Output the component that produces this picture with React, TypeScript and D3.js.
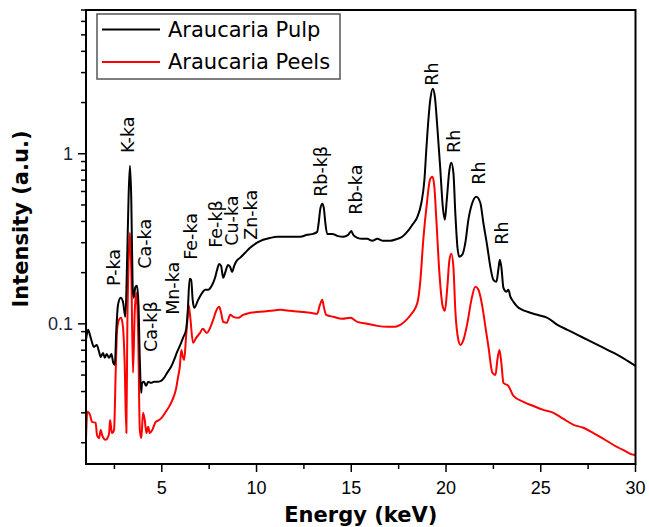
import React, { useEffect, useRef } from "react";
import * as d3 from "d3";

// Araucaria Pulp spectrum (energy in keV, intensity in a.u.)
const pulpEnergy = [
  1.0, 1.11, 1.25, 1.42, 1.57, 1.69, 1.78, 1.9, 1.99, 2.09,
  2.22, 2.34, 2.44, 2.52, 2.6, 2.69, 2.83, 2.95, 3.08, 3.17,
  3.25, 3.32, 3.39, 3.46, 3.51, 3.61, 3.69, 3.77, 3.84, 3.91,
  3.96, 4.06, 4.17, 4.28, 4.43, 4.59, 4.75, 4.96, 5.12, 5.28,
  5.49, 5.65, 5.81, 6.02, 6.12, 6.28, 6.36, 6.47, 6.55, 6.63,
  6.71, 6.92, 7.13, 7.29, 7.44, 7.66, 7.81, 7.92, 8.03, 8.13,
  8.24, 8.34, 8.5, 8.61, 8.71, 8.82, 8.92, 9.14, 9.4, 9.66,
  10.03, 10.35, 10.72, 11.09, 11.41, 11.78, 12.31, 12.67, 12.99, 13.2,
  13.28, 13.36, 13.47, 13.55, 13.63, 13.73, 14.0, 14.26, 14.58, 14.84,
  15.0, 15.1, 15.32, 15.58, 15.84, 16.11, 16.37, 16.69, 17.06, 17.43,
  17.69, 17.96, 18.22, 18.49, 18.7, 18.86, 18.96, 19.07, 19.17, 19.3,
  19.41, 19.54, 19.7, 19.83, 19.94, 20.04, 20.18, 20.28, 20.39, 20.49,
  20.6, 20.7, 20.86, 21.02, 21.18, 21.39, 21.6, 21.81, 21.97, 22.18,
  22.34, 22.5, 22.66, 22.76, 22.84, 22.92, 23.03, 23.19, 23.29, 23.4,
  23.56, 23.77, 24.03, 24.3, 24.82, 25.35, 25.88, 26.41, 26.94, 27.47,
  28.0, 28.52, 29.05, 29.58, 30.0,
];
const pulpIntensity = [
  0.0805, 0.0922, 0.0827, 0.0732, 0.0752, 0.0684, 0.0639, 0.0675, 0.0631, 0.0666,
  0.0631, 0.0666, 0.059, 0.0574, 0.0922, 0.1294, 0.1422, 0.1347, 0.11, 0.238,
  0.574, 0.85, 0.536, 0.1696, 0.1422, 0.165, 0.1673, 0.1294, 0.0614, 0.0393,
  0.045, 0.0456, 0.0432, 0.0456, 0.045, 0.0456, 0.0456, 0.0462, 0.0481, 0.0515,
  0.0559, 0.0614, 0.0684, 0.0773, 0.0827, 0.0922, 0.113, 0.184, 0.1815, 0.1384,
  0.1242, 0.1384, 0.1522, 0.1585, 0.1585, 0.1696, 0.1865, 0.208, 0.225, 0.219,
  0.1865, 0.1995, 0.222, 0.216, 0.202, 0.219, 0.232, 0.245, 0.262, 0.28,
  0.3, 0.312, 0.32, 0.325, 0.325, 0.325, 0.325, 0.334, 0.338, 0.348,
  0.393, 0.469, 0.508, 0.481, 0.393, 0.338, 0.338, 0.329, 0.325, 0.334,
  0.352, 0.334, 0.32, 0.316, 0.316, 0.308, 0.316, 0.308, 0.308, 0.316,
  0.325, 0.348, 0.382, 0.426, 0.515, 0.703, 1.056, 1.585, 2.078, 2.413,
  2.164, 1.442, 0.805, 0.488, 0.409, 0.536, 0.805, 0.885, 0.773, 0.45,
  0.284, 0.248, 0.255, 0.3, 0.409, 0.515, 0.558, 0.515, 0.393, 0.284,
  0.216, 0.1815, 0.1767, 0.208, 0.238, 0.216, 0.1628, 0.1543, 0.1585, 0.1441,
  0.1347, 0.1259, 0.1209, 0.1177, 0.113, 0.1085, 0.0987, 0.0922, 0.0861, 0.0805,
  0.0752, 0.0703, 0.0657, 0.0606, 0.0566,
];

// Araucaria Peels spectrum
const peelsEnergy = [
  1.0, 1.07, 1.21, 1.32, 1.51, 1.58, 1.69, 1.78, 1.85, 2.04,
  2.16, 2.22, 2.27, 2.37, 2.48, 2.57, 2.64, 2.74, 2.85, 2.95,
  3.04, 3.13, 3.18, 3.27, 3.32, 3.39, 3.48, 3.57, 3.66, 3.75,
  3.84, 3.92, 4.01, 4.1, 4.19, 4.28, 4.37, 4.5, 4.68, 4.86,
  5.03, 5.21, 5.38, 5.56, 5.74, 5.86, 5.95, 6.03, 6.11, 6.18,
  6.27, 6.35, 6.41, 6.49, 6.65, 6.81, 7.02, 7.16, 7.38, 7.55,
  7.71, 7.87, 8.03, 8.13, 8.24, 8.43, 8.61, 8.77, 9.03, 9.29,
  9.66, 10.19, 10.72, 11.25, 11.78, 12.31, 12.84, 13.2, 13.33, 13.47,
  13.55, 13.68, 14.05, 14.52, 14.95, 15.32, 15.84, 16.37, 16.9, 17.32,
  17.59, 17.96, 18.22, 18.49, 18.64, 18.8, 19.01, 19.15, 19.28, 19.38,
  19.49, 19.65, 19.83, 19.94, 20.07, 20.18, 20.28, 20.39, 20.49, 20.65,
  20.76, 20.92, 21.13, 21.34, 21.55, 21.71, 21.92, 22.08, 22.24, 22.45,
  22.61, 22.71, 22.82, 22.92, 23.03, 23.29, 23.56, 24.09, 24.61, 25.14,
  25.67, 26.2, 26.73, 27.25, 27.78, 28.31, 28.84, 29.37, 29.9, 30.0,
];
const peelsIntensity = [
  0.0208, 0.0304, 0.0292, 0.0265, 0.0262, 0.0222, 0.0213, 0.0238, 0.0222, 0.0208,
  0.0216, 0.0228, 0.0272, 0.0228, 0.0238, 0.0536, 0.0922, 0.1056, 0.1085, 0.096,
  0.059, 0.0228, 0.0922, 0.272, 0.343, 0.208, 0.0515, 0.1161, 0.1522, 0.0922,
  0.0238, 0.0213, 0.03, 0.0272, 0.0228, 0.0248, 0.0228, 0.0238, 0.0265, 0.0272,
  0.0284, 0.0304, 0.0325, 0.0357, 0.0409, 0.0488, 0.0559, 0.0703, 0.0639, 0.0614,
  0.0805, 0.1056, 0.1294, 0.113, 0.0773, 0.0827, 0.0885, 0.0935, 0.0885, 0.0947,
  0.1056, 0.1193, 0.1259, 0.1161, 0.1027, 0.1014, 0.113, 0.11, 0.1085, 0.113,
  0.1161, 0.1177, 0.1193, 0.1209, 0.1193, 0.1177, 0.1161, 0.1145, 0.1276, 0.1384,
  0.1259, 0.113, 0.11, 0.107, 0.1085, 0.1027, 0.1, 0.0973, 0.096, 0.096,
  0.0987, 0.107, 0.1161, 0.1329, 0.1767, 0.312, 0.536, 0.703, 0.732, 0.648,
  0.409, 0.1995, 0.1259, 0.1193, 0.165, 0.238, 0.258, 0.216, 0.1209, 0.0805,
  0.0752, 0.0805, 0.1014, 0.1384, 0.165, 0.1585, 0.1259, 0.096, 0.0732, 0.0515,
  0.0501, 0.0614, 0.0703, 0.059, 0.045, 0.0432, 0.0377, 0.0348, 0.0329, 0.0312,
  0.03, 0.0276, 0.0255, 0.0245, 0.0228, 0.0211, 0.0194, 0.0181, 0.017, 0.017,
];

// peak annotations: label start sits at (energy, intensity)
const peakNames = [
  "P-ka", "K-ka", "Ca-ka", "Ca-kβ", "Mn-ka", "Fe-ka", "Fe-kβ", "Cu-ka",
  "Zn-ka", "Rb-kβ", "Rb-ka", "Rh", "Rh", "Rh", "Rh",
];
const peakEnergy = [
  2.8, 3.54, 4.42, 4.75, 5.91, 6.85, 8.16, 9.03, 10.01, 13.7, 15.55, 19.59,
  20.76, 22.08, 23.29,
];
const peakIntensity = [
  0.167, 1.01, 0.211, 0.0684, 0.113, 0.238, 0.28, 0.288, 0.312, 0.558, 0.438,
  2.51, 1.01, 0.657, 0.292,
];

const seriesNames = ["Araucaria Pulp", "Araucaria Peels"];
const seriesColors = ["#000000", "#ff0000"];

const xTicks = [5, 10, 15, 20, 25, 30];
const xMinorTicks = [2.5, 7.5, 12.5, 17.5, 22.5, 27.5];
const yTicks = [0.1, 1];
const yTickLabels = ["0.1", "1"];
const yMinorTicks = [
  0.02, 0.03, 0.04, 0.05, 0.06, 0.07, 0.08, 0.09,
  0.2, 0.3, 0.4, 0.5, 0.6, 0.7, 0.8, 0.9,
  2, 3, 4, 5, 6, 7,
];

const W = 649;
const H = 527;

const App: React.FC = () => {
  const ref = useRef<SVGSVGElement | null>(null);

  useEffect(() => {
    if (!ref.current) return;
    const svg = d3.select(ref.current);
    svg.selectAll("*").remove();

    const left = 86;
    const right = 635.5;
    const top = 10;
    const bottom = 464;

    const x = d3.scaleLinear().domain([1, 30]).range([left, right]);
    const y = d3.scaleLog().domain([0.015, 7]).range([bottom, top]);

    svg.append("rect").attr("width", W).attr("height", H).attr("fill", "#fff");

    svg
      .append("defs")
      .append("clipPath")
      .attr("id", "plot-clip")
      .append("rect")
      .attr("x", left)
      .attr("y", top)
      .attr("width", right - left)
      .attr("height", bottom - top);

    // spectra
    const series = [
      { e: peelsEnergy, v: peelsIntensity, color: seriesColors[1] },
      { e: pulpEnergy, v: pulpIntensity, color: seriesColors[0] },
    ];
    series.forEach((s) => {
      const line = d3
        .line<number>()
        .x((_, i) => x(s.e[i]))
        .y((d) => y(d))
        .curve(d3.curveMonotoneX);
      svg
        .append("path")
        .attr("clip-path", "url(#plot-clip)")
        .attr("d", line(s.v))
        .attr("fill", "none")
        .attr("stroke", s.color)
        .attr("stroke-width", 2)
        .attr("stroke-linejoin", "round");
    });

    // frame
    svg
      .append("rect")
      .attr("x", left)
      .attr("y", top)
      .attr("width", right - left)
      .attr("height", bottom - top)
      .attr("fill", "none")
      .attr("stroke", "#000")
      .attr("stroke-width", 2);

    // x axis ticks
    const xg = svg.append("g");
    xTicks.forEach((t) => {
      xg.append("line")
        .attr("x1", x(t)).attr("x2", x(t))
        .attr("y1", bottom).attr("y2", bottom + 8)
        .attr("stroke", "#000").attr("stroke-width", 1.5);
      xg.append("text")
        .attr("x", x(t))
        .attr("y", bottom + 30)
        .attr("text-anchor", "middle")
        .style("font-family", "'Liberation Sans', Arial, sans-serif")
        .style("font-size", "18px")
        .attr("fill", "#000")
        .text(d3.format("d")(t));
    });
    xMinorTicks.forEach((t) => {
      xg.append("line")
        .attr("x1", x(t)).attr("x2", x(t))
        .attr("y1", bottom).attr("y2", bottom + 5)
        .attr("stroke", "#000").attr("stroke-width", 1.5);
    });

    // y axis ticks
    const yg = svg.append("g");
    yTicks.forEach((t, i) => {
      yg.append("line")
        .attr("x1", left - 8).attr("x2", left)
        .attr("y1", y(t)).attr("y2", y(t))
        .attr("stroke", "#000").attr("stroke-width", 1.5);
      yg.append("text")
        .attr("x", left - 13)
        .attr("y", y(t) + 6.5)
        .attr("text-anchor", "end")
        .style("font-family", "'Liberation Sans', Arial, sans-serif")
        .style("font-size", "18px")
        .attr("fill", "#1a1f3d")
        .text(yTickLabels[i]);
    });
    yMinorTicks.forEach((t) => {
      yg.append("line")
        .attr("x1", left - 5).attr("x2", left)
        .attr("y1", y(t)).attr("y2", y(t))
        .attr("stroke", "#000").attr("stroke-width", 1.5);
    });

    // axis titles
    svg
      .append("text")
      .attr("x", (left + right) / 2)
      .attr("y", 522)
      .attr("text-anchor", "middle")
      .style("font-family", "'DejaVu Sans', Verdana, sans-serif")
      .style("font-size", "21px")
      .style("font-weight", "bold")
      .attr("fill", "#000")
      .text("Energy (keV)");

    svg
      .append("text")
      .attr("transform", `translate(28, ${(125 + 313) / 2}) rotate(-90)`)
      .attr("text-anchor", "middle")
      .style("font-family", "'DejaVu Sans', Verdana, sans-serif")
      .style("font-size", "21px")
      .style("font-weight", "bold")
      .attr("fill", "#000")
      .text("Intensity (a.u.)");

    // peak labels
    peakNames.forEach((name, i) => {
      svg
        .append("text")
        .attr(
          "transform",
          `translate(${x(peakEnergy[i])}, ${y(peakIntensity[i])}) rotate(-90)`
        )
        .attr("text-anchor", "start")
        .style("font-family", "'DejaVu Sans', Verdana, sans-serif")
        .style("font-size", "17.5px")
        .attr("fill", "#000")
        .text(name);
    });

    // legend
    const lg = svg.append("g");
    lg.append("rect")
      .attr("x", 97)
      .attr("y", 14)
      .attr("width", 243)
      .attr("height", 65)
      .attr("fill", "#fff")
      .attr("stroke", "#555")
      .attr("stroke-width", 1.5);
    seriesNames.forEach((name, i) => {
      const ly = 29.5 + i * 32.5;
      lg.append("line")
        .attr("x1", 102).attr("x2", 160)
        .attr("y1", ly).attr("y2", ly)
        .attr("stroke", seriesColors[i])
        .attr("stroke-width", 2);
      lg.append("text")
        .attr("x", 168)
        .attr("y", ly + 7)
        .style("font-family", "'DejaVu Sans', Verdana, sans-serif")
        .style("font-size", "21px")
        .attr("fill", "#000")
        .text(name);
    });
  }, []);

  return (
    <svg
      ref={ref}
      width={W}
      height={H}
      style={{ position: "absolute", left: 0, top: 0, display: "block" }}
    ></svg>
  );
};

export default App;
